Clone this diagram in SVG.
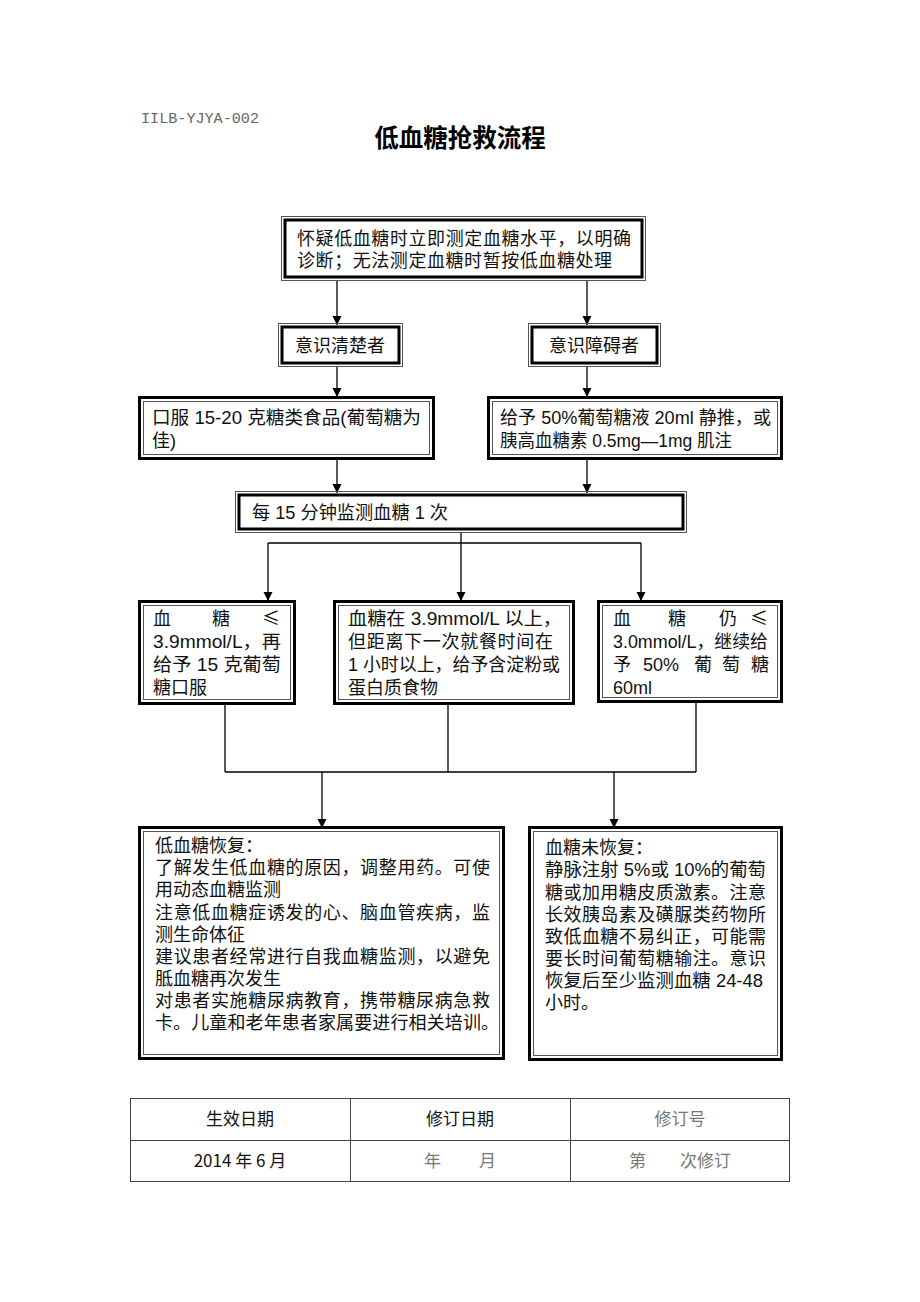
<svg xmlns="http://www.w3.org/2000/svg" width="920" height="1302" viewBox="0 0 920 1302">
<style>
.bg{fill:#fff}
.thin{fill:none;stroke:#555;stroke-width:1}
.thick{fill:none;stroke:#000;stroke-width:3}
.t{font-family:"Liberation Sans","Noto Sans CJK SC",sans-serif;font-size:18px;fill:#111}
.le{font-family:"Noto Sans CJK SC",sans-serif;font-size:18px;fill:#111}
.tb{font-family:"Noto Sans CJK SC",sans-serif;font-size:17px;fill:#111}
.g{fill:#777}
.c{text-anchor:middle}
.ln{fill:none;stroke:#000;stroke-width:1.3}
</style>
<defs>
<marker id="ah" viewBox="0 0 10 10" refX="10" refY="5" markerWidth="9" markerHeight="10" markerUnits="userSpaceOnUse" orient="auto">
<path d="M0,0 L10,5 L0,10 z" fill="#000"/>
</marker>
</defs>
<rect class="bg" width="920" height="1302"/>

<g id="header">
<text x="141" y="123" font-family="Liberation Mono, monospace" font-size="15.5" fill="#666" textLength="118" lengthAdjust="spacingAndGlyphs">IILB-YJYA-002</text>
<text x="460" y="147" class="c" font-family="Noto Sans CJK SC, sans-serif" font-size="24.5" font-weight="bold" fill="#000">低血糖抢救流程</text>
</g>

<g id="connectors">
<path class="ln" d="M337 281 V325" marker-end="url(#ah)"/>
<path class="ln" d="M587 281 V325" marker-end="url(#ah)"/>
<path class="ln" d="M337 366 V397" marker-end="url(#ah)"/>
<path class="ln" d="M587 366 V397" marker-end="url(#ah)"/>
<path class="ln" d="M337 460 V493" marker-end="url(#ah)"/>
<path class="ln" d="M587 460 V493" marker-end="url(#ah)"/>
<path class="ln" d="M461 532 V543 M268 543 H641"/>
<path class="ln" d="M268 543 V601" marker-end="url(#ah)"/>
<path class="ln" d="M461 543 V601" marker-end="url(#ah)"/>
<path class="ln" d="M641 543 V601" marker-end="url(#ah)"/>
<path class="ln" d="M225 704 V772 M448 704 V772 M696 702 V772 M225 772 H696"/>
<path class="ln" d="M322 772 V828" marker-end="url(#ah)"/>
<path class="ln" d="M614 772 V828" marker-end="url(#ah)"/>
</g>

<g id="n_start">
<rect class="thin" x="281.5" y="216.5" width="364" height="64"/>
<rect class="thick" x="285" y="220" width="357" height="57" fill="#fff"/>
<text class="t" x="297" y="245" textLength="334" lengthAdjust="spacing">怀疑低血糖时立即测定血糖水平，以明确</text>
<text class="t" x="297" y="267" textLength="315" lengthAdjust="spacing">诊断；无法测定血糖时暂按低血糖处理</text>
</g>

<g id="n_conscious">
<rect class="thin" x="278.5" y="323.5" width="124" height="43"/>
<rect class="thick" x="282" y="327" width="117" height="36"/>
<text class="t c" x="340" y="352">意识清楚者</text>
</g>

<g id="n_unconscious">
<rect class="thin" x="528.5" y="323.5" width="132" height="43"/>
<rect class="thick" x="532" y="327" width="125" height="36"/>
<text class="t c" x="594" y="352">意识障碍者</text>
</g>

<g id="n_oral">
<rect class="thick" x="139.5" y="397.5" width="294" height="61"/>
<rect class="thin" x="143.5" y="401.5" width="286" height="53"/>
<text class="t" x="152" y="424" textLength="269" lengthAdjust="spacingAndGlyphs">口服 15-20 克糖类食品(葡萄糖为</text>
<text class="t" x="152" y="447">佳)</text>
</g>

<g id="n_iv">
<rect class="thick" x="488.5" y="397.5" width="293" height="61"/>
<rect class="thin" x="492.5" y="401.5" width="285" height="53"/>
<text class="t" x="500" y="424" textLength="271" lengthAdjust="spacingAndGlyphs">给予 50%葡萄糖液 20ml 静推，或</text>
<text class="t" x="500" y="447" textLength="232" lengthAdjust="spacingAndGlyphs">胰高血糖素 0.5mg—1mg 肌注</text>
</g>

<g id="n_monitor">
<rect class="thin" x="235.5" y="491.5" width="451" height="41"/>
<rect class="thick" x="239" y="495" width="444" height="34"/>
<text class="t" x="252" y="519" textLength="196" lengthAdjust="spacingAndGlyphs">每 15 分钟监测血糖 1 次</text>
</g>

<g id="n_low">
<rect class="thick" x="139.5" y="601.5" width="155" height="102"/>
<rect class="thin" x="143.5" y="605.5" width="147" height="94"/>
<text class="t" x="153" y="625">血</text>
<text class="t" x="212" y="625">糖</text>
<text class="le" x="262" y="625">≤</text>
<text class="t" x="153" y="648" textLength="128" lengthAdjust="spacingAndGlyphs">3.9mmol/L，再</text>
<text class="t" x="153" y="671" textLength="128" lengthAdjust="spacingAndGlyphs">给予 15 克葡萄</text>
<text class="t" x="153" y="694">糖口服</text>
</g>

<g id="n_mid">
<rect class="thick" x="334.5" y="601.5" width="239" height="102"/>
<rect class="thin" x="338.5" y="605.5" width="231" height="94"/>
<text class="t" x="348" y="625" textLength="214" lengthAdjust="spacingAndGlyphs">血糖在 3.9mmol/L 以上，</text>
<text class="t" x="348" y="648" textLength="205" lengthAdjust="spacing">但距离下一次就餐时间在</text>
<text class="t" x="348" y="671" textLength="212" lengthAdjust="spacingAndGlyphs">1 小时以上，给予含淀粉或</text>
<text class="t" x="348" y="694">蛋白质食物</text>
</g>

<g id="n_verylow">
<rect class="thick" x="598.5" y="601.5" width="183" height="100"/>
<rect class="thin" x="602.5" y="605.5" width="175" height="92"/>
<text class="t" x="613" y="625">血</text>
<text class="t" x="668" y="625">糖</text>
<text class="t" x="719" y="625">仍</text>
<text class="le" x="750" y="625">≤</text>
<text class="t" x="613" y="648" textLength="155" lengthAdjust="spacingAndGlyphs">3.0mmol/L，继续给</text>
<text class="t" x="613" y="671">予</text>
<text class="t" x="643" y="671">50%</text>
<text class="t" x="694" y="671">葡</text>
<text class="t" x="722" y="671">萄</text>
<text class="t" x="751" y="671">糖</text>
<text class="t" x="613" y="694">60ml</text>
</g>

<g id="n_recovered">
<rect class="thick" x="139.5" y="827.5" width="364" height="231"/>
<rect class="thin" x="143.5" y="831.5" width="356" height="223"/>
<text class="t" x="155" y="852">低血糖恢复：</text>
<text class="t" x="155" y="874" textLength="335" lengthAdjust="spacing">了解发生低血糖的原因，调整用药。可使</text>
<text class="t" x="155" y="896">用动态血糖监测</text>
<text class="t" x="155" y="919" textLength="335" lengthAdjust="spacing">注意低血糖症诱发的心、脑血管疾病，监</text>
<text class="t" x="155" y="941">测生命体征</text>
<text class="t" x="155" y="963" textLength="335" lengthAdjust="spacing">建议患者经常进行自我血糖监测，以避免</text>
<text class="t" x="155" y="985">胝血糖再次发生</text>
<text class="t" x="155" y="1007" textLength="335" lengthAdjust="spacing">对患者实施糖尿病教育，携带糖尿病急救</text>
<text class="t" x="155" y="1029" textLength="344" lengthAdjust="spacing">卡。儿童和老年患者家属要进行相关培训。</text>
</g>

<g id="n_notrecovered">
<rect class="thick" x="529.5" y="827.5" width="252" height="232"/>
<rect class="thin" x="533.5" y="831.5" width="244" height="224"/>
<text class="t" x="545" y="854">血糖未恢复：</text>
<text class="t" x="545" y="876" textLength="221" lengthAdjust="spacingAndGlyphs">静脉注射 5%或 10%的葡萄</text>
<text class="t" x="545" y="899" textLength="221" lengthAdjust="spacing">糖或加用糖皮质激素。注意</text>
<text class="t" x="545" y="921" textLength="221" lengthAdjust="spacing">长效胰岛素及磺脲类药物所</text>
<text class="t" x="545" y="943" textLength="221" lengthAdjust="spacing">致低血糖不易纠正，可能需</text>
<text class="t" x="545" y="965" textLength="221" lengthAdjust="spacing">要长时间葡萄糖输注。意识</text>
<text class="t" x="545" y="987" textLength="218" lengthAdjust="spacingAndGlyphs">恢复后至少监测血糖 24-48</text>
<text class="t" x="545" y="1009">小时。</text>
</g>

<g id="table">
<rect x="130.5" y="1098.5" width="659" height="83" fill="none" stroke="#444" stroke-width="1"/>
<path d="M130 1140.5 H790 M350.5 1098 V1182 M570.5 1098 V1182" fill="none" stroke="#444" stroke-width="1"/>
<text class="tb c" x="240" y="1125">生效日期</text>
<text class="tb c" x="460" y="1125">修订日期</text>
<text class="tb c g" x="680" y="1125">修订号</text>
<text class="tb c" x="240" y="1167">2014 年 6 月</text>
<text class="tb c g" x="460" y="1167" xml:space="preserve">年　　 月</text>
<text class="tb c g" x="680" y="1167" xml:space="preserve">第　　次修订</text>
</g>
</svg>
